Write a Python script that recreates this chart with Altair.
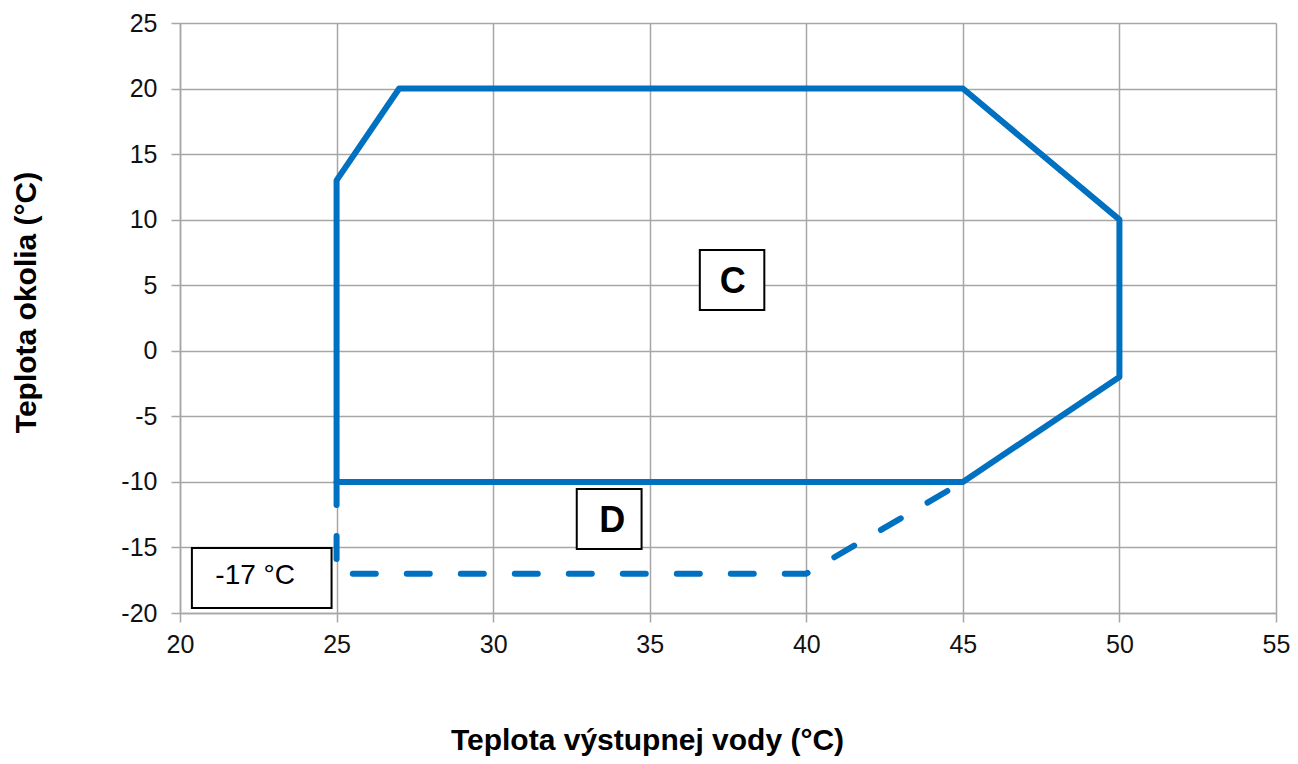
import altair as alt
import pandas as pd

# Operating envelope (solid) and extended limit (dashed)
outline_x = [25, 25, 27, 45, 50, 50, 45, 25]
outline_y = [-10, 13, 20, 20, 10, -2, -10, -10]
limit_x = [25, 25, 40, 45]
limit_y = [-10, -17, -17, -10]

# Annotation boxes
box_labels = ["C", "D", "-17 °C"]
box_x1 = [36.6, 32.67, 20.38]
box_x2 = [38.66, 34.74, 24.84]
box_y1 = [7.69, -10.54, -15.04]
box_y2 = [3.11, -15.12, -19.62]
text_x = [37.65, 33.8, 22.4]
text_y = [5.25, -13.0, -17.2]
text_bold = ["bold", "bold", "normal"]

x_ticks = [20, 25, 30, 35, 40, 45, 50, 55]
y_ticks = [-20, -15, -10, -5, 0, 5, 10, 15, 20, 25]

FONT = "Liberation Sans"
BLUE = "#0070C0"

outline = pd.DataFrame({"x": outline_x, "y": outline_y, "i": range(len(outline_x))})
limit = pd.DataFrame({"x": limit_x, "y": limit_y, "i": range(len(limit_x))})
boxes = pd.DataFrame({"x1": box_x1, "x2": box_x2, "y1": box_y1, "y2": box_y2})
texts = pd.DataFrame({"label": box_labels, "x": text_x, "y": text_y, "w": text_bold})

xscale = alt.Scale(domain=[20, 55], nice=False, zero=False)
yscale = alt.Scale(domain=[-20, 25], nice=False, zero=False)

xaxis = alt.Axis(values=x_ticks, title="Teplota výstupnej vody (°C)",
                 titleX=467, titleY=136, titleBaseline="alphabetic",
                 titleAnchor="middle", labelPadding=10, labelFlush=False,
                 labelExpr="toString(datum.value)")
yaxis = alt.Axis(values=y_ticks, title="Teplota okolia (°C)",
                 titleX=-145, titleY=279, titleAngle=270,
                 titleBaseline="alphabetic", titleAnchor="middle",
                 labelPadding=14, labelFlush=False,
                 labelExpr="toString(datum.value)")

dashed = alt.Chart(limit).mark_line(
    color=BLUE, strokeWidth=6, strokeDash=[23, 31], strokeCap="round",
    strokeJoin="round"
).encode(
    x=alt.X("x:Q", scale=xscale, axis=xaxis),
    y=alt.Y("y:Q", scale=yscale, axis=yaxis),
    order="i:Q",
)

solid = alt.Chart(outline).mark_line(
    color=BLUE, strokeWidth=6, strokeCap="round", strokeJoin="round"
).encode(
    x=alt.X("x:Q", scale=xscale),
    y=alt.Y("y:Q", scale=yscale),
    order="i:Q",
)

rects = alt.Chart(boxes).mark_rect(
    fill="white", stroke="black", strokeWidth=2
).encode(
    x=alt.X("x1:Q", scale=xscale), x2="x2:Q",
    y=alt.Y("y1:Q", scale=yscale), y2="y2:Q",
)

labels_bold = alt.Chart(texts[texts["w"] == "bold"]).mark_text(
    font=FONT, fontWeight="bold", fontSize=36, color="black",
    baseline="middle", align="center"
).encode(
    x=alt.X("x:Q", scale=xscale), y=alt.Y("y:Q", scale=yscale), text="label:N"
)

labels_norm = alt.Chart(texts[texts["w"] == "normal"]).mark_text(
    font=FONT, fontSize=28, color="black", baseline="middle", align="center"
).encode(
    x=alt.X("x:Q", scale=xscale), y=alt.Y("y:Q", scale=yscale), text="label:N"
)

chart = alt.layer(dashed, solid, rects, labels_bold, labels_norm).properties(
    width=1096, height=590,
    padding={"left": 172, "top": 15, "right": 14, "bottom": 143},
    autosize=alt.AutoSizeParams(type="none"),
).configure_view(
    stroke="transparent"
).configure_axis(
    labelFont=FONT, labelFontSize=25, labelColor="#111111",
    titleFont=FONT, titleFontSize=30, titleFontWeight="bold", titleColor="black",
    gridColor="#a6a6a6", gridWidth=1.5, domainColor="#a6a6a6", domainWidth=1.5,
    tickColor="#a6a6a6", tickWidth=1.5, tickSize=9,
)

chart.save("out.html", embed_options={"renderer": "svg", "actions": False})
